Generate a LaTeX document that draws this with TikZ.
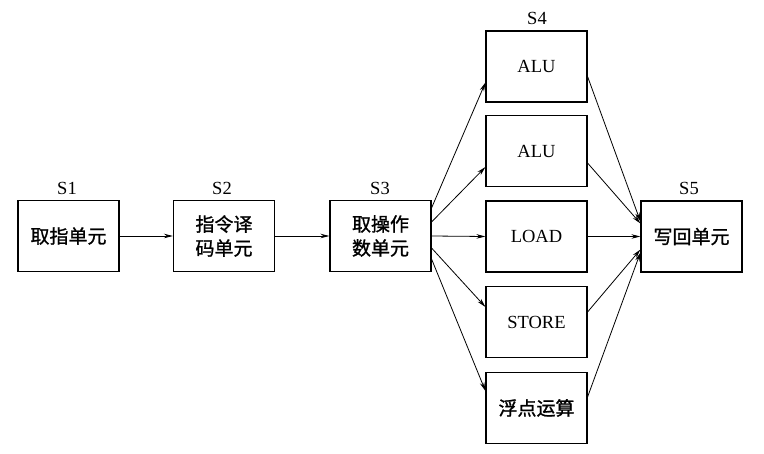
\documentclass[tikz,border=0pt]{standalone}
\usepackage{fontspec}
\setmainfont{Liberation Serif}
\newfontfamily\cjk[FakeBold=1.2]{Noto Sans CJK SC}
\usetikzlibrary{arrows.meta}
\begin{document}
\begin{tikzpicture}[x=1pt,y=-1pt,
  box/.style={draw,line width=1.1pt,minimum width=101pt,minimum height=71pt,inner sep=0pt,align=center,font=\fontsize{18.5}{24}\selectfont},
  cbox/.style={box,font=\cjk\fontsize{19}{24}\selectfont},
  stage/.style={inner sep=0pt,font=\fontsize{18.5}{20}\selectfont},
  arr/.style={draw,line width=0.8pt,-{Stealth[length=9pt,width=4.5pt]}}]
\useasboundingbox (0,0) rectangle (764,454);
\fill[white] (0,0) rectangle (764,454);
\node[cbox] (s1) at (68.5,236) {取指单元};
\node[cbox] (s2) at (224,236) {指令译\\码单元};
\node[cbox] (s3) at (380.5,236) {取操作\\数单元};
\node[box] (a1) at (536.5,66.5) {ALU};
\node[box] (a2) at (536.5,151) {ALU};
\node[box] (a3) at (536.5,236.5) {LOAD};
\node[box] (a4) at (536.5,322) {STORE};
\node[cbox] (a5) at (536.5,408) {浮点运算};
\node[cbox] (s5) at (691.5,236.5) {写回单元};
\node[stage] (l1) at (67,188) {S1};
\node[stage] (l2) at (222,188) {S2};
\node[stage] (l3) at (380,188) {S3};
\node[stage] (l4) at (537,18) {S4};
\node[stage] (l5) at (689,188) {S5};
\draw[arr] (s1.east) -- (s2.west);
\draw[arr] (s2.east) -- (s3.west);
\draw[arr] ([yshift=28pt]s3.east) -- ([yshift=-16pt]a1.west);
\draw[arr] ([yshift=14pt]s3.east) -- ([yshift=-16pt]a2.west);
\draw[arr] (s3.east) -- (a3.west);
\draw[arr] ([yshift=-12pt]s3.east) -- ([yshift=15pt]a4.west);
\draw[arr] ([yshift=-23pt]s3.east) -- ([yshift=17pt]a5.west);
\draw[arr] ([yshift=-10pt]a1.east) -- ([yshift=15pt]s5.west);
\draw[arr] ([yshift=-12pt]a2.east) -- ([yshift=13pt]s5.west);
\draw[arr] (a3.east) -- (s5.west);
\draw[arr] ([yshift=10pt]a4.east) -- ([yshift=-13pt]s5.west);
\draw[arr] ([yshift=11pt]a5.east) -- ([yshift=-16pt]s5.west);
\end{tikzpicture}
\end{document}
